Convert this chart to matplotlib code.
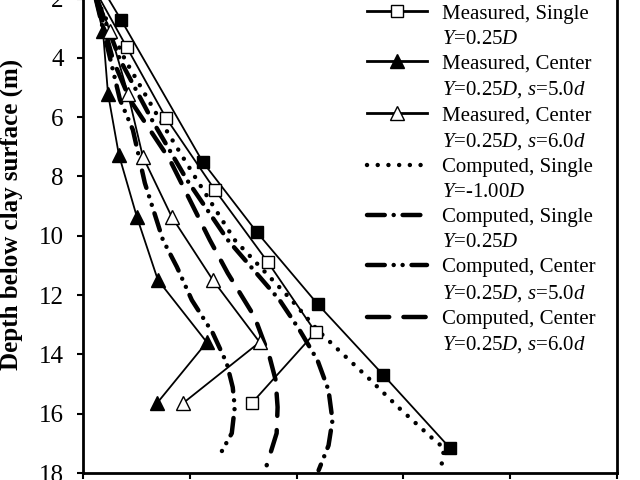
import matplotlib
matplotlib.use("Agg")
import matplotlib.pyplot as plt
from matplotlib.lines import Line2D

plt.rcParams["font.family"] = "Liberation Serif"
plt.rcParams["mathtext.fontset"] = "custom"
plt.rcParams["mathtext.rm"] = "Liberation Serif"
plt.rcParams["mathtext.it"] = "Liberation Serif:italic"

# measured, single pile (filled squares, legend row cropped in source)
msq_fill_depth = [1.5, 2.71, 7.51, 9.87, 12.30, 14.70, 17.17]
msq_fill_x = [1.54, 3.55, 11.21, 16.26, 21.96, 28.13, 34.39]

# measured, single, Y=0.25D
msq_open_depth = [1.5, 3.65, 6.02, 8.45, 10.88, 13.25, 15.65]
msq_open_x = [0.79, 4.11, 7.76, 12.34, 17.29, 21.78, 15.79]

# measured, center, s=5.0d
mtri_fill_depth = [1.5, 3.11, 5.21, 7.27, 9.37, 11.49, 13.59, 15.65]
mtri_fill_x = [0.75, 1.87, 2.34, 3.36, 5.05, 7.01, 11.59, 6.92]

# measured, center, s=6.0d
mtri_open_depth = [1.5, 3.11, 5.21, 7.34, 9.37, 11.49, 13.59, 15.65]
mtri_open_x = [0.93, 2.52, 4.21, 5.61, 8.32, 12.15, 16.54, 9.35]

# computed, single, Y=-1.00D
c_single_m1_depth = [1.5, 2.03, 4.06, 6.09, 8.11, 10.14, 12.17, 13.18, 13.79,
                     14.80, 15.82, 16.80, 17.17, 17.51, 17.84]
c_single_m1_x = [0.65, 1.31, 3.93, 7.20, 10.65, 14.2, 19.53, 21.96, 23.74,
                 26.73, 29.63, 32.62, 33.83, 33.64, 33.55]

# computed, single, Y=0.25D
c_single_depth = [1.5, 2.03, 4.06, 6.09, 8.11, 10.14, 12.17, 13.18, 14.20,
                  15.21, 16.22, 17.07, 17.91]
c_single_x = [0.65, 1.31, 3.46, 6.45, 9.72, 13.55, 18.41, 20.28, 21.96,
              22.99, 23.36, 22.99, 22.06]

# computed, center, s=5.0d
c_center5_depth = [1.5, 2.03, 3.72, 5.41, 6.43, 8.22, 10.14, 11.05, 12.17,
                   13.28, 14.30, 15.11, 15.78, 16.66, 17.51]
c_center5_x = [0.6, 1.21, 2.34, 3.46, 4.67, 5.79, 7.48, 8.79, 10.19,
               12.15, 13.46, 14.02, 14.21, 13.93, 12.62]

# computed, center, s=6.0d
c_center6_depth = [1.5, 2.03, 4.06, 5.41, 7.44, 8.79, 10.14, 11.26, 12.74,
                   14.10, 14.87, 15.78, 16.66, 17.74]
c_center6_x = [0.65, 1.31, 2.80, 4.39, 8.13, 10.00, 11.87, 13.55, 16.07,
               17.48, 18.04, 18.22, 18.13, 17.20]

x_ticks = [0, 10, 20, 30, 40, 50]
y_ticks = [2, 4, 6, 8, 10, 12, 14, 16, 18]

legend_labels = [
    "Measured, Single", "$Y$=0.25$D$",
    "Measured, Center", "$Y$=0.25$D$, $s$=5.0$d$",
    "Measured, Center", "$Y$=0.25$D$, $s$=6.0$d$",
    "Computed, Single", "$Y$=-1.00$D$",
    "Computed, Single", "$Y$=0.25$D$",
    "Computed, Center", "$Y$=0.25$D$, $s$=5.0$d$",
    "Computed, Center", "$Y$=0.25$D$, $s$=6.0$d$",
]

fig = plt.figure(figsize=(6.4, 4.8), dpi=100)
ax = fig.add_axes([83 / 640, 1 - 473 / 480, 534 / 640, 474.5 / 480])

lw_c = 3.2
dotted = (0, (0.01, 2.4))
dashdot = (0, (4, 2, 0.01, 2))
dashdotdot = (0, (4, 2, 0.01, 2, 0.01, 2))
dashed = (0, (5, 3.2))

common = dict(color="black", lw=lw_c, dash_capstyle="round", zorder=2)
ax.plot(c_single_m1_x, c_single_m1_depth, ls=dotted, **common)
ax.plot(c_single_x, c_single_depth, ls=dashdot, **common)
ax.plot(c_center5_x, c_center5_depth, ls=dashdotdot, **common)
ax.plot(c_center6_x, c_center6_depth, ls=dashed, **common)

mk = dict(color="black", lw=1.3, markeredgewidth=1.0, markevery=slice(1, None), zorder=3)
ax.plot(msq_fill_x, msq_fill_depth, marker="s", ms=9, mfc="black", **mk)
ax.plot(msq_open_x, msq_open_depth, marker="s", ms=9, mfc="white", **mk)
ax.plot(mtri_fill_x, mtri_fill_depth, marker="^", ms=10, mfc="black", **mk)
ax.plot(mtri_open_x, mtri_open_depth, marker="^", ms=10, mfc="white", **mk)

ax.set_xlim(0, 50)
ax.set_ylim(18, 2)
ax.set_xticks(x_ticks)
ax.set_yticks(y_ticks)
ax.tick_params(axis="both", direction="out", length=4, width=1.5, labelsize=18, pad=10)
ax.tick_params(axis="x", labelbottom=False)
for side in ["left", "bottom", "right", "top"]:
    ax.spines[side].set_linewidth(2)

ax.set_ylabel("Depth below clay surface (m)", fontsize=18, fontweight="bold")
ax.yaxis.set_label_coords(-0.112, 0.544)

blank = Line2D([], [], color="none")
handles = []
for marker, ms, face in [("s", 9, "white"), ("^", 10, "black"), ("^", 10, "white")]:
    handles += [Line2D([], [], color="black", lw=2, marker=marker, ms=ms,
                       mfc=face, mec="black"), blank]
for ls in [dotted, dashdot, dashdotdot, dashed]:
    handles += [Line2D([], [], color="black", lw=lw_c, ls=ls, dash_capstyle="round"), blank]

fig.legend(handles, legend_labels, loc="upper left", bbox_to_anchor=(367 / 640, 1 - 4 / 480),
           frameon=False, fontsize=15, borderpad=0, borderaxespad=0, handlelength=2.9,
           handletextpad=0.7, labelspacing=0.265, numpoints=1)

fig.savefig("out.png", dpi=100)
